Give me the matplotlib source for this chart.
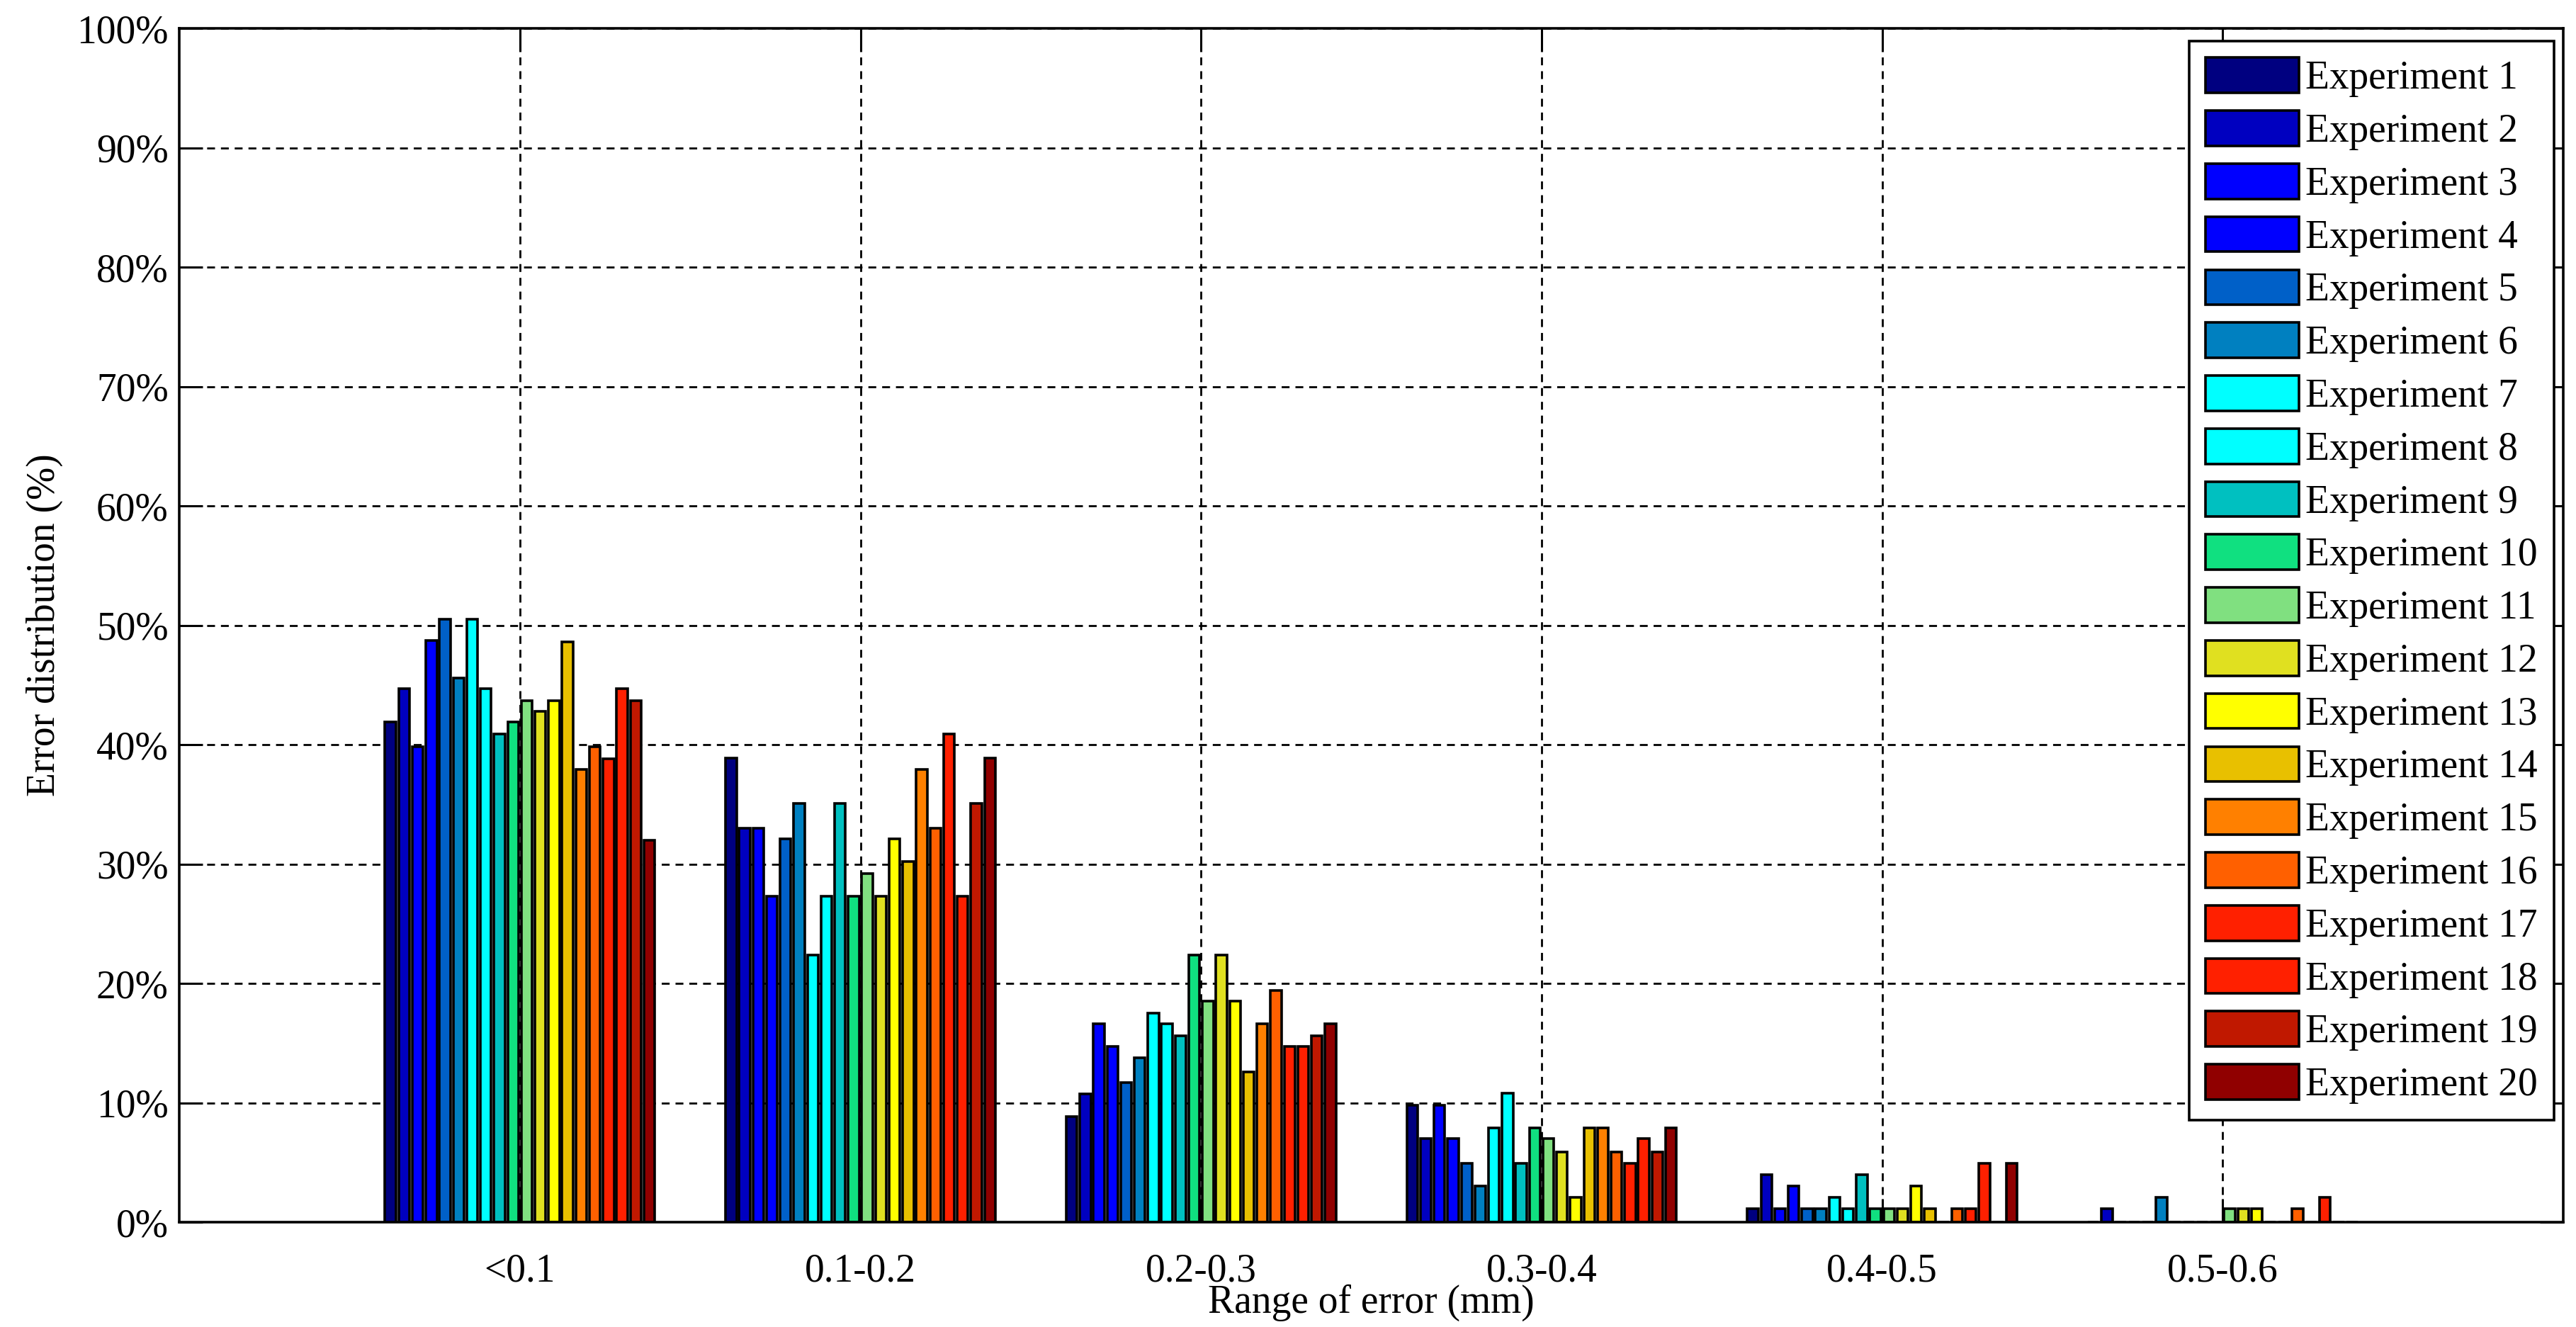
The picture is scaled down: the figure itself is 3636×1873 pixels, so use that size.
import numpy as np
import matplotlib.pyplot as plt
from matplotlib.ticker import FuncFormatter

plt.rcParams['font.family'] = ['Liberation Serif', 'DejaVu Serif']

ranges = ["<0.1", "0.1-0.2", "0.2-0.3", "0.3-0.4", "0.4-0.5", "0.5-0.6"]
experiments = [f"Experiment {i}" for i in range(1, 21)]

# error distribution (%) per range, one value per experiment 1..20
err_lt01 = [41.9, 44.7, 39.8, 48.7, 50.5, 45.6, 50.5, 44.7, 40.9, 41.9,
            43.7, 42.8, 43.7, 48.6, 37.9, 39.8, 38.8, 44.7, 43.7, 32.0]
err_01_02 = [38.9, 33.0, 33.0, 27.3, 32.1, 35.1, 22.4, 27.3, 35.1, 27.3,
             29.2, 27.3, 32.1, 30.2, 37.9, 33.0, 40.9, 27.3, 35.1, 38.9]
err_02_03 = [8.85, 10.75, 16.6, 14.7, 11.7, 13.8, 17.5, 16.6, 15.6, 22.4,
             18.5, 22.4, 18.5, 12.6, 16.6, 19.4, 14.7, 14.7, 15.6, 16.6]
err_03_04 = [9.8, 7.0, 9.8, 7.0, 4.9, 3.0, 7.9, 10.8, 4.9, 7.9,
             7.0, 5.9, 2.1, 7.9, 7.9, 5.9, 4.9, 7.0, 5.9, 7.9]
err_04_05 = [1.1, 4.0, 1.1, 3.0, 1.1, 1.1, 2.1, 1.1, 4.0, 1.1,
             1.1, 1.1, 3.0, 1.1, 0.0, 1.1, 1.1, 4.9, 0.0, 4.9]
err_05_06 = [0.0, 1.1, 0.0, 0.0, 0.0, 2.1, 0.0, 0.0, 0.0, 0.0,
             1.1, 1.1, 1.1, 0.0, 0.0, 1.1, 0.0, 2.1, 0.0, 0.0]

colors = ['#000080', '#0000C0', '#0000FF', '#0000FF', '#0060C8',
          '#0080C0', '#00FFFF', '#00FFFF', '#00C0C0', '#10E080',
          '#80E080', '#E0E020', '#FFFF00', '#E8C000', '#FF8000',
          '#FF6000', '#FF2000', '#FF2000', '#C01800', '#900000']

data = np.array([err_lt01, err_01_02, err_02_03, err_03_04, err_04_05, err_05_06])

fig = plt.figure(figsize=(36.37, 18.73), dpi=100)
ax = fig.add_axes([0.0696, 0.079, 0.9252, 0.8996])

x = np.arange(1, len(ranges) + 1)
n = len(experiments)
group_w = 0.8
step = group_w / n
for k in range(n):
    ax.bar(x - group_w / 2 + step * (k + 0.5), data[:, k], step * 0.8,
           color=colors[k], edgecolor='black', linewidth=2.6,
           label=experiments[k])

ax.set_xlim(0, 7)
ax.set_ylim(0, 100)
ax.set_xticks(x)
ax.set_xticklabels(ranges)
ax.set_yticks(np.arange(0, 101, 10))
ax.yaxis.set_major_formatter(FuncFormatter(lambda v, p: f"{v:.0f}%"))

ax.set_axisbelow(True)
ax.grid(True, color='black', linestyle=(0, (4, 3)), linewidth=2.0)
ax.tick_params(direction='in', length=24, width=2.2, top=True, right=True,
               labelsize=40)
ax.tick_params(axis='y', pad=11)
ax.tick_params(axis='x', pad=31)
for s in ax.spines.values():
    s.set_linewidth(2.6)

ax.set_ylabel("Error distribution (%)", fontsize=40, va='center')
ax.yaxis.set_label_coords(-0.0565, 0.5)
ax.set_xlabel("Range of error (mm)", fontsize=40, va='center')
ax.xaxis.set_label_coords(0.5, -0.0675)

leg = ax.legend(loc='upper right', bbox_to_anchor=(1 - 13 / 3365, 1 - 18 / 1685),
                borderaxespad=0, fontsize=40, fancybox=False, framealpha=1,
                edgecolor='black', handlelength=2.36, handleheight=1.0,
                handletextpad=0.17, labelspacing=0.34, borderpad=0.42)
leg.get_frame().set_linewidth(2.6)

fig.savefig("out.png", dpi=100)
